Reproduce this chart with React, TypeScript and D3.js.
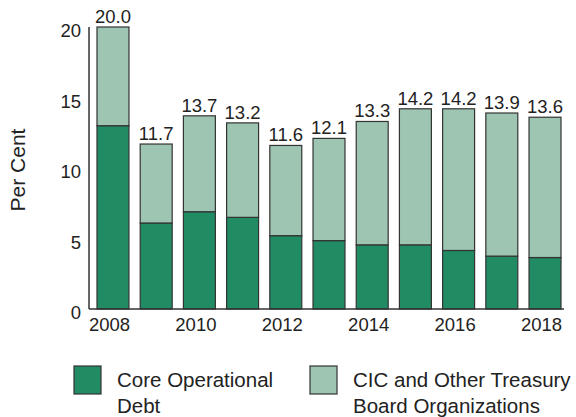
import React from "react";
import * as d3 from "d3";

const years = ["2008","2009","2010","2011","2012","2013","2014","2015","2016","2017","2018"];
const coreDebt = [13.0, 6.1, 6.9, 6.5, 5.2, 4.85, 4.55, 4.55, 4.15, 3.75, 3.65];
const otherDebt = [7.0, 5.6, 6.8, 6.7, 6.4, 7.25, 8.75, 9.65, 10.05, 10.15, 9.95];
const totalLabels = ["20.0","11.7","13.7","13.2","11.6","12.1","13.3","14.2","14.2","13.9","13.6"];
const yTicks = [0, 5, 10, 15, 20];
const xTickYears = ["2008","2010","2012","2014","2016","2018"];

const DARK = "#218c64";
const LIGHT = "#9ec5b1";
const FONT = "'Liberation Sans', Arial, Helvetica, sans-serif";

export default function App() {
  const width = 576, height = 417;
  const x = d3.scaleBand<string>().domain(years).range([97, 561]).paddingInner(0.26).paddingOuter(0);
  const y = d3.scaleLinear().domain([0, 20]).range([309, 27]);
  const stacked = d3.stack<any>().keys(["core", "other"])(
    years.map((yr, i) => ({ year: yr, core: coreDebt[i], other: otherDebt[i] }))
  );
  const colors = [DARK, LIGHT];
  const fs = 18.5;
  const lfs = 20.5;
  return (
    <svg width={width} height={height} style={{ position: "absolute", left: 0, top: 0 }} fontFamily={FONT}>
      <rect width={width} height={height} fill="#fff" />
      {stacked.map((layer, li) =>
        layer.map((d, i) => (
          <rect key={`${li}-${i}`} x={x(years[i])} y={y(d[1])} width={x.bandwidth()} height={y(d[0]) - y(d[1])}
            fill={colors[li]} stroke="#333" strokeWidth={1.2} />
        ))
      )}
      {years.map((yr, i) => (
        <text key={yr} x={(x(yr) as number) + x.bandwidth() / 2} y={y(coreDebt[i] + otherDebt[i]) - 4}
          textAnchor="middle" fontSize={fs} fill="#222">{totalLabels[i]}</text>
      ))}
      <line x1={89} x2={89} y1={y(20)} y2={y(0)} stroke="#333" strokeWidth={1.5} />
      <line x1={89} x2={564} y1={y(0)} y2={y(0)} stroke="#333" strokeWidth={1.5} />
      {yTicks.map(t => (
        <text key={t} x={81} y={y(t) + 10} textAnchor="end" fontSize={fs} fill="#222">{t}</text>
      ))}
      {xTickYears.map(yr => (
        <text key={yr} x={(x(yr) as number) + x.bandwidth() / 2 - 3.5} y={331} textAnchor="middle" fontSize={fs} fill="#222">{yr}</text>
      ))}
      <text transform="translate(25,170) rotate(-90)" textAnchor="middle" fontSize={21} fill="#222">Per Cent</text>
      <rect x={74} y={366} width={27} height={28} fill={DARK} stroke="#333" strokeWidth={1.2} />
      <text x={117} y={387} fontSize={lfs} fill="#222">Core Operational</text>
      <text x={117} y={413} fontSize={lfs} fill="#222">Debt</text>
      <rect x={310} y={366} width={27} height={28} fill={LIGHT} stroke="#333" strokeWidth={1.2} />
      <text x={353} y={387} fontSize={lfs} fill="#222">CIC and Other Treasury</text>
      <text x={353} y={413} fontSize={lfs} fill="#222">Board Organizations</text>
    </svg>
  );
}
